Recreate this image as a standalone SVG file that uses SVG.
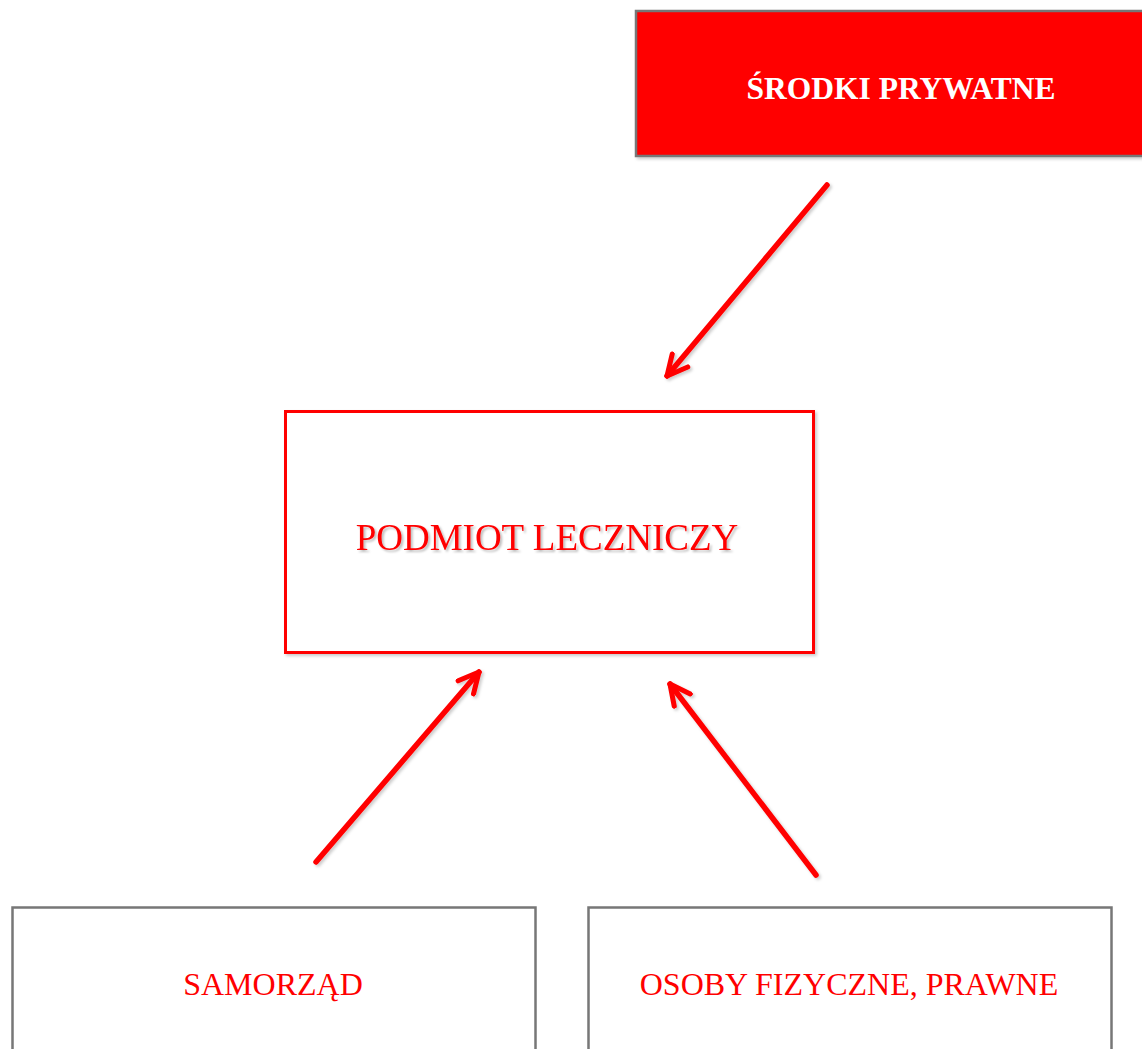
<svg xmlns="http://www.w3.org/2000/svg" width="1142" height="1049" viewBox="0 0 1142 1049">
<style>
.t{font-family:"Liberation Serif","Times New Roman",serif;text-anchor:middle;fill:#ff0000}
.gray{fill:#ffffff;stroke:#777777;stroke-width:2.5}
.arr{fill:none;stroke:#ff0000;stroke-width:5.5;stroke-linecap:round}
</style>
<defs>
<marker id="ah" viewBox="0 0 10 10" refX="9" refY="5" markerWidth="4.6" markerHeight="4.6" orient="auto" markerUnits="strokeWidth">
<path d="M1,1 L9,5 L1,9" fill="none" stroke="#ff0000" stroke-width="2" stroke-linecap="round" stroke-linejoin="round"/>
</marker>
<filter id="sh" x="-20%" y="-20%" width="140%" height="140%">
<feDropShadow dx="2" dy="2" stdDeviation="1.5" flood-color="#000000" flood-opacity="0.2"/>
</filter>
<filter id="tsh" x="-5%" y="-20%" width="110%" height="140%">
<feDropShadow dx="2" dy="2" stdDeviation="1" flood-color="#000000" flood-opacity="0.25"/>
</filter>
</defs>
<g id="node-srodki">
<rect x="636" y="11" width="510" height="145" fill="#ff0000" stroke="#777777" stroke-width="2.5" filter="url(#sh)"/>
<text x="901" y="99" class="t" style="fill:#ffffff;font-weight:bold;font-size:31.5px">ŚRODKI PRYWATNE</text>
</g>
<g id="node-podmiot">
<rect x="285.5" y="411.5" width="528" height="241" fill="#ffffff" stroke="#ff0000" stroke-width="3" filter="url(#sh)"/>
<text x="547" y="550" class="t" style="font-size:37px" filter="url(#tsh)">PODMIOT LECZNICZY</text>
</g>
<g id="node-samorzad">
<rect x="12.5" y="907.5" width="523" height="160" class="gray"/>
<text x="273" y="995" class="t" style="font-size:32px">SAMORZĄD</text>
</g>
<g id="node-osoby">
<rect x="588.5" y="907.5" width="523" height="160" class="gray"/>
<text x="849" y="995" class="t" style="font-size:32px">OSOBY FIZYCZNE, PRAWNE</text>
</g>
<g id="connectors" filter="url(#sh)">
<line x1="827" y1="185" x2="667" y2="376" class="arr" marker-end="url(#ah)"/>
<line x1="316" y1="862" x2="479" y2="672" class="arr" marker-end="url(#ah)"/>
<line x1="816" y1="875" x2="670" y2="684" class="arr" marker-end="url(#ah)"/>
</g>
</svg>
